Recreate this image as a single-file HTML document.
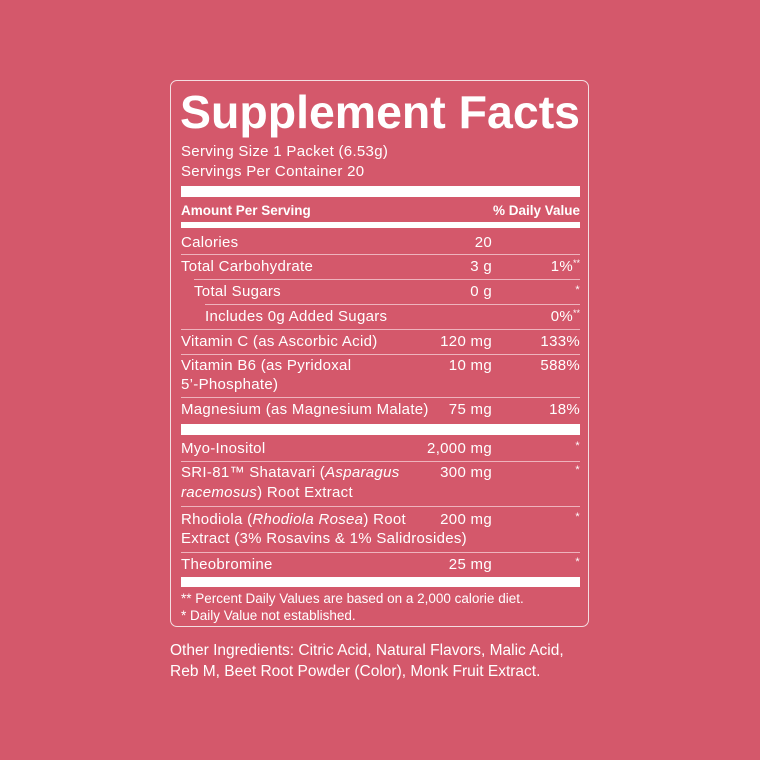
<!DOCTYPE html>
<html><head><meta charset="utf-8"><style>
html,body{margin:0;padding:0}
body{width:760px;height:760px;background:#d4586b;position:relative;overflow:hidden;font-family:"Liberation Sans",sans-serif;color:#fff}
.box{position:absolute;left:170px;top:80px;width:419px;height:547px;border:1px solid #f4dde1;border-radius:7px;box-sizing:border-box}
.t{position:absolute;font-size:15px;line-height:18px;white-space:nowrap;letter-spacing:0.3px}
.r{text-align:right}
.bar{position:absolute;left:181px;width:399px;background:#fff}
.ln{position:absolute;height:1px;background:#eeb3bd;right:180px}
.s{font-size:9px;position:relative;top:-5px;letter-spacing:0}
</style></head><body>
<div class="box"></div>
<svg style="position:absolute;left:0;top:0" width="760" height="760"><text x="180" y="128" font-family="Liberation Sans" font-size="46" font-weight="bold" fill="#fff" textLength="400" lengthAdjust="spacingAndGlyphs">Supplement Facts</text></svg>
<div class="t" style="left:181px;top:143px">Serving Size 1 Packet (6.53g)</div>
<div class="t" style="left:181px;top:163px">Servings Per Container 20</div>
<div class="bar" style="top:186px;height:11px"></div>
<div class="t" style="left:181px;top:202px;font-size:13.5px;font-weight:bold;letter-spacing:0">Amount Per Serving</div>
<div class="t r" style="right:180px;top:202px;font-size:13.5px;font-weight:bold;letter-spacing:0">% Daily Value</div>
<div class="bar" style="top:222px;height:6px"></div>

<div class="t" style="left:181px;top:234px">Calories</div>
<div class="t r" style="right:268px;top:234px">20</div>
<div class="ln" style="left:181px;top:254px"></div>

<div class="t" style="left:181px;top:258px">Total Carbohydrate</div>
<div class="t r" style="right:268px;top:258px">3 g</div>
<div class="t r" style="right:180px;top:258px">1%<span class="s">**</span></div>
<div class="ln" style="left:194px;top:279px"></div>

<div class="t" style="left:194px;top:283px">Total Sugars</div>
<div class="t r" style="right:268px;top:283px">0 g</div>
<div class="t r" style="right:180px;top:281px;font-size:11px">*</div>
<div class="ln" style="left:205px;top:304px"></div>

<div class="t" style="left:205px;top:308px">Includes 0g Added Sugars</div>
<div class="t r" style="right:180px;top:308px">0%<span class="s">**</span></div>
<div class="ln" style="left:181px;top:329px"></div>

<div class="t" style="left:181px;top:333px">Vitamin C (as Ascorbic Acid)</div>
<div class="t r" style="right:268px;top:333px">120 mg</div>
<div class="t r" style="right:180px;top:333px">133%</div>
<div class="ln" style="left:181px;top:354px"></div>

<div class="t" style="left:181px;top:357px">Vitamin B6 (as Pyridoxal</div>
<div class="t" style="left:181px;top:376px">5’-Phosphate)</div>
<div class="t r" style="right:268px;top:357px">10 mg</div>
<div class="t r" style="right:180px;top:357px">588%</div>
<div class="ln" style="left:181px;top:397px"></div>

<div class="t" style="left:181px;top:401px">Magnesium (as Magnesium Malate)</div>
<div class="t r" style="right:268px;top:401px">75 mg</div>
<div class="t r" style="right:180px;top:401px">18%</div>
<div class="bar" style="top:424px;height:11px"></div>

<div class="t" style="left:181px;top:440px">Myo-Inositol</div>
<div class="t r" style="right:268px;top:440px">2,000 mg</div>
<div class="t r" style="right:180px;top:437px;font-size:11px">*</div>
<div class="ln" style="left:181px;top:461px"></div>

<div class="t" style="left:181px;top:464px">SRI-81™ Shatavari (<i>Asparagus</i></div>
<div class="t" style="left:181px;top:484px"><i>racemosus</i>) Root Extract</div>
<div class="t r" style="right:268px;top:464px">300 mg</div>
<div class="t r" style="right:180px;top:461px;font-size:11px">*</div>
<div class="ln" style="left:181px;top:506px"></div>

<div class="t" style="left:181px;top:511px">Rhodiola (<i>Rhodiola Rosea</i>) Root</div>
<div class="t" style="left:181px;top:530px">Extract (3% Rosavins &amp; 1% Salidrosides)</div>
<div class="t r" style="right:268px;top:511px">200 mg</div>
<div class="t r" style="right:180px;top:508px;font-size:11px">*</div>
<div class="ln" style="left:181px;top:552px"></div>

<div class="t" style="left:181px;top:556px">Theobromine</div>
<div class="t r" style="right:268px;top:556px">25 mg</div>
<div class="t r" style="right:180px;top:553px;font-size:11px">*</div>
<div class="bar" style="top:577px;height:10px"></div>

<div class="t" style="left:181px;top:590px;font-size:13.5px;letter-spacing:0">** Percent Daily Values are based on a 2,000 calorie diet.</div>
<div class="t" style="left:181px;top:607px;font-size:13.5px;letter-spacing:0">* Daily Value not established.</div>

<div class="t" style="left:170px;top:642px;font-size:15.5px;letter-spacing:0">Other Ingredients: Citric Acid, Natural Flavors, Malic Acid,</div>
<div class="t" style="left:170px;top:663px;font-size:15.5px;letter-spacing:0">Reb M, Beet Root Powder (Color), Monk Fruit Extract.</div>
</body></html>
